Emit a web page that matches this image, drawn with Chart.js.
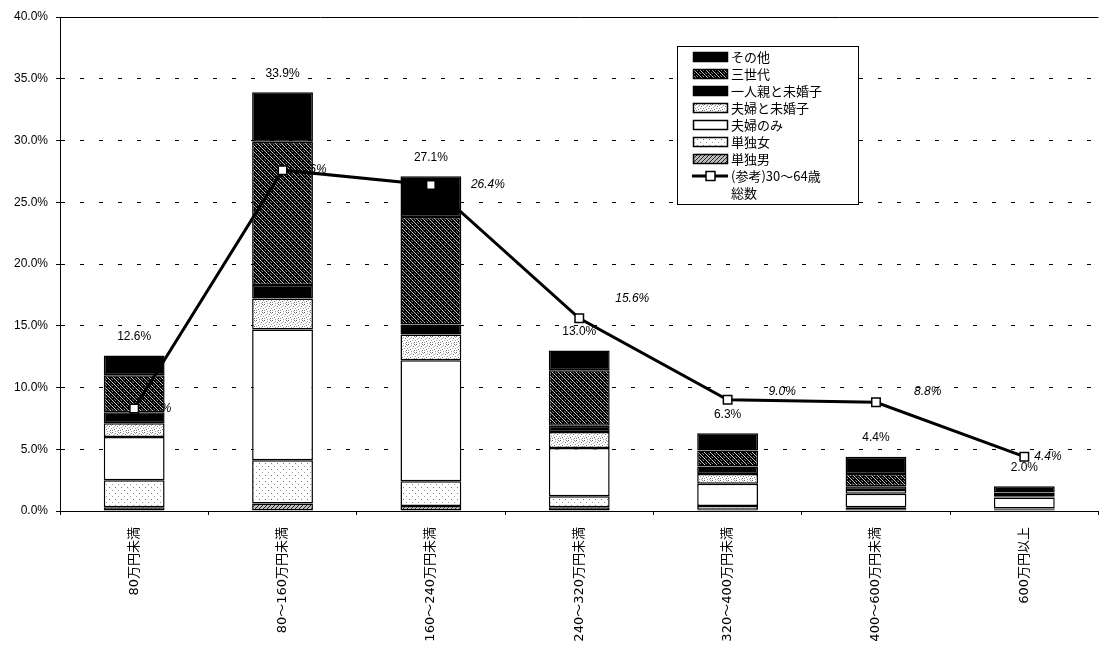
<!DOCTYPE html>
<html lang="ja">
<head>
<meta charset="utf-8">
<title>世帯類型別 所得分布</title>
<script src="https://cdn.jsdelivr.net/npm/chart.js@4.4.1/dist/chart.umd.min.js"></script>
<style>
  body { margin: 0; background: #fff; }
  #contenedor { width: 1106px; height: 658px; }
</style>
</head>
<body>
<div id="contenedor"><canvas id="grafico" width="1106" height="658"></canvas></div>
<script>
// Tramos de ingreso
const categorias = ['80万円未満', '80～160万円未満', '160～240万円未満', '240～320万円未満', '320～400万円未満', '400～600万円未満', '600万円以上'];

// Porcentaje por tipo de hogar (de abajo hacia arriba en la pila)
const tanshinOtoko = [0.3, 0.6, 0.4, 0.3, 0.1, 0.1, 0.1];
const tanshinOnna  = [2.2, 3.5, 2.0, 0.9, 0.3, 0.2, 0.1];
const fufuNomi     = [3.5, 10.6, 9.8, 3.9, 1.8, 1.1, 0.9];
const fufuMikonshi = [1.1, 2.5, 2.1, 1.3, 0.8, 0.3, 0.1];
const hitorioya    = [0.9, 1.1, 0.8, 0.5, 0.6, 0.3, 0.1];
const sansedai     = [3.0, 11.6, 8.7, 4.5, 1.3, 1.0, 0.2];
const sonota       = [1.6, 4.0, 3.3, 1.6, 1.4, 1.4, 0.5];

// Serie de referencia: 30~64 años, total
const referencia = [8.3, 27.6, 26.4, 15.6, 9.0, 8.8, 4.4];

// Eje Y
const marcasY = [0, 5, 10, 15, 20, 25, 30, 35, 40];

// Total de cada barra (para la etiqueta de arriba)
const totales = categorias.map((_, i) =>
    Math.round([tanshinOtoko, tanshinOnna, fufuNomi, fufuMikonshi, hitorioya, sansedai, sonota]
        .reduce((s, serie) => s + serie[i], 0) * 10) / 10);

// Tramas de relleno (como en la impresión en blanco y negro)
function trama(tam, fondo, puntos) {
    const c = document.createElement('canvas');
    c.width = tam; c.height = tam;
    const g = c.getContext('2d');
    g.fillStyle = fondo;
    g.fillRect(0, 0, tam, tam);
    puntos.forEach(([px, py, col]) => { g.fillStyle = col; g.fillRect(px, py, 1, 1); });
    return g.createPattern(c, 'repeat');
}

const rellenoSansedai = trama(6, '#000', [
    [0, 0, '#d0d0d0'], [1, 1, '#bdbdbd'], [2, 2, '#d0d0d0'], [3, 3, '#9a9a9a'], [4, 4, '#d0d0d0'], [5, 5, '#bdbdbd'],
    [3, 0, '#6a6a6a'], [4, 1, '#8a8a8a'], [0, 3, '#6a6a6a'], [1, 4, '#8a8a8a']
]);
const rellenoFufuMikonshi = trama(8, '#fff', [
    [0, 0, '#666'], [3, 1, '#999'], [6, 0, '#888'], [1, 3, '#aaa'], [5, 2, '#777'], [7, 4, '#999'],
    [2, 5, '#777'], [4, 4, '#aaa'], [0, 6, '#888'], [6, 6, '#666'], [3, 7, '#999'], [5, 7, '#bbb'],
    [2, 2, '#bbb'], [7, 1, '#aaa']
]);
const rellenoTanshinOnna = trama(6, '#fff', [[1, 1, '#777'], [4, 4, '#999']]);
const rellenoTanshinOtoko = trama(4, '#bdbdbd', [[0, 3, '#222'], [1, 2, '#222'], [2, 1, '#222'], [3, 0, '#222']]);

// Desplazamiento de las etiquetas de la línea respecto a cada punto
const desplazamientos = [[10, 0], [10, 0], [40, 0], [36, -20], [41, -8], [38, -11], [10, 0]];

const etiquetasPlugin = {
    id: 'etiquetas',
    beforeDatasetsDraw(chart) {
        const ctx = chart.ctx;
        const ex = chart.scales.x, ey = chart.scales.y;
        ctx.save();
        ctx.fillStyle = '#000';
        ctx.textBaseline = 'middle';

        // total encima de cada barra
        ctx.font = '12px Arial, "Liberation Sans"';
        ctx.textAlign = 'center';
        totales.forEach((t, i) => {
            ctx.fillText(t.toFixed(1) + '%', ex.getPixelForValue(i), ey.getPixelForValue(t) - 19);
        });

        // valores de la serie de referencia, en cursiva
        ctx.font = 'italic 12px Arial, "Liberation Sans"';
        ctx.textAlign = 'left';
        referencia.forEach((v, i) => {
            const [dx, dy] = desplazamientos[i];
            ctx.fillText(v.toFixed(1) + '%', ex.getPixelForValue(i) + dx, ey.getPixelForValue(v) + dy);
        });
        ctx.restore();
    }
};

const leyendaPlugin = {
    id: 'leyenda',
    afterDraw(chart) {
        const ctx = chart.ctx;
        const bx = 677, by = 46, bw = 181, bh = 158;
        ctx.save();
        ctx.fillStyle = '#fff';
        ctx.fillRect(bx, by, bw, bh);
        ctx.strokeStyle = '#000';
        ctx.lineWidth = 1;
        ctx.strokeRect(bx + 0.5, by + 0.5, bw, bh);

        ctx.font = '13px "Noto Sans CJK JP"';
        ctx.textBaseline = 'middle';
        ctx.textAlign = 'left';

        const barras = chart.data.datasets.filter(d => d.type !== 'line').reverse();
        let yy = by + 11;
        barras.forEach(ds => {
            ctx.fillStyle = ds.backgroundColor;
            ctx.fillRect(bx + 16, yy - 5, 35, 10);
            ctx.lineWidth = 1.5;
            ctx.strokeRect(bx + 16.5, yy - 4.5, 34, 9);
            ctx.fillStyle = '#000';
            ctx.fillText(ds.label, bx + 54, yy);
            yy += 17;
        });

        // entrada de la línea
        const linea = chart.data.datasets.find(d => d.type === 'line');
        ctx.lineWidth = 3;
        ctx.beginPath();
        ctx.moveTo(bx + 15, yy);
        ctx.lineTo(bx + 51, yy);
        ctx.stroke();
        ctx.fillStyle = '#fff';
        ctx.lineWidth = 1.5;
        ctx.fillRect(bx + 29, yy - 4.5, 9, 9);
        ctx.strokeRect(bx + 29, yy - 4.5, 9, 9);
        ctx.fillStyle = '#000';
        linea.label.split('\n').forEach((t, k) => ctx.fillText(t, bx + 54, yy + k * 17));
        ctx.restore();
    }
};

const barra = (label, data, color) => ({
    type: 'bar',
    label: label,
    data: data,
    backgroundColor: color,
    borderColor: '#000',
    borderWidth: 1.5,
    borderSkipped: false,
    stack: 'hogares',
    order: 1,
    categoryPercentage: 1,
    barPercentage: 0.41
});

new Chart(document.getElementById('grafico'), {
    type: 'bar',
    data: {
        labels: categorias,
        datasets: [
            {
                type: 'line',
                label: '(参考)30～64歳\n総数',
                data: referencia,
                stack: 'referencia',
                order: 0,
                borderColor: '#000',
                borderWidth: 3,
                tension: 0,
                pointStyle: 'rect',
                pointRadius: 6,
                pointBackgroundColor: '#fff',
                pointBorderColor: '#000',
                pointBorderWidth: 1.5
            },
            barra('単独男', tanshinOtoko, rellenoTanshinOtoko),
            barra('単独女', tanshinOnna, rellenoTanshinOnna),
            barra('夫婦のみ', fufuNomi, '#fff'),
            barra('夫婦と未婚子', fufuMikonshi, rellenoFufuMikonshi),
            barra('一人親と未婚子', hitorioya, '#000'),
            barra('三世代', sansedai, rellenoSansedai),
            barra('その他', sonota, '#000')
        ]
    },
    options: {
        responsive: false,
        animation: false,
        layout: { padding: { top: 17, right: 0, left: 0, bottom: 0 } },
        plugins: {
            legend: { display: false },
            tooltip: { enabled: false }
        },
        scales: {
            x: {
                stacked: true,
                grid: { offset: true, drawOnChartArea: false, tickLength: 4, color: '#000' },
                border: { color: '#000', width: 1 },
                ticks: {
                    autoSkip: false,
                    minRotation: 90,
                    maxRotation: 90,
                    padding: 12,
                    color: '#000',
                    font: { family: '"DejaVu Sans", "Noto Sans CJK JP"', size: 13 }
                },
                afterFit: s => { s.height = 147; }
            },
            y: {
                stacked: true,
                min: marcasY[0],
                max: marcasY[marcasY.length - 1],
                afterBuildTicks: s => { s.ticks = marcasY.map(v => ({ value: v })); },
                ticks: {
                    callback: v => Number(v).toFixed(1) + '%',
                    color: '#000',
                    padding: 8,
                    font: { family: 'Arial, "Liberation Sans"', size: 12 }
                },
                grid: { color: '#000', lineWidth: 1, tickLength: 4 },
                border: {
                    color: '#000',
                    width: 1,
                    dash: c => (c.tick && c.tick.value > 0 && c.tick.value < 40) ? [4, 15] : []
                },
                afterFit: s => { s.width = 60; }
            }
        }
    },
    plugins: [etiquetasPlugin, leyendaPlugin]
});
</script>
</body>
</html>
